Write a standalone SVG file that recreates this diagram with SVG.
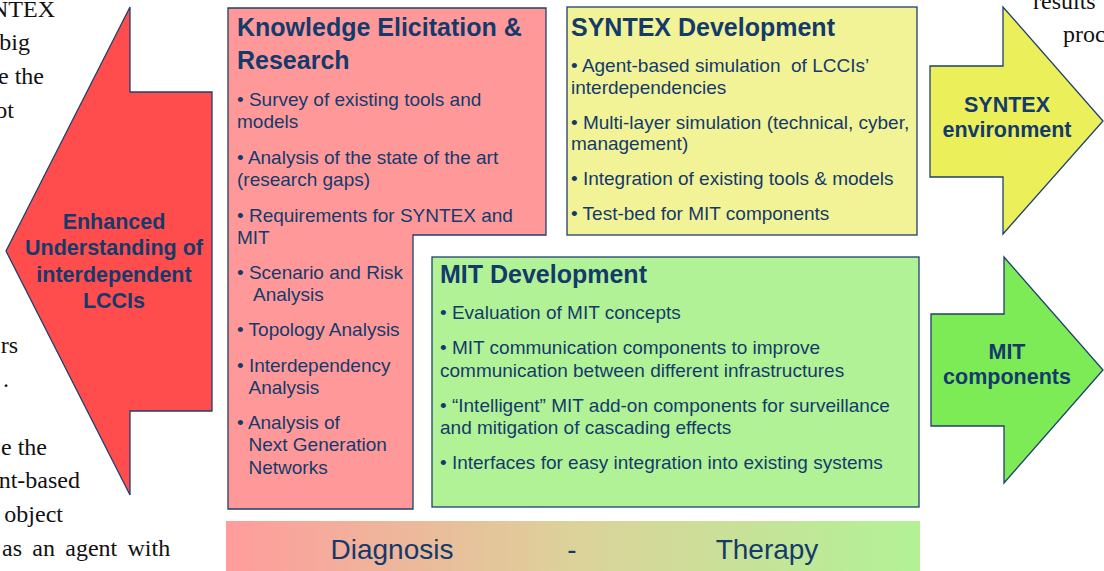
<svg xmlns="http://www.w3.org/2000/svg" width="1104" height="571" viewBox="0 0 1104 571">
<style>
.bg{font-family:"Liberation Serif","Times New Roman",serif;font-size:24px;fill:#111}
.t{font-family:"Liberation Sans",Arial,sans-serif;fill:#143A6B}
.title{font-size:25px;font-weight:bold}
.b{font-size:19px}
.arr{font-size:21.5px;font-weight:bold;text-anchor:middle}
.bar{font-size:28px;text-anchor:middle}
.box{stroke:#1F3F6E;stroke-width:1.3}
</style>
<defs>
<linearGradient id="dt" x1="0" y1="0" x2="1" y2="0">
<stop offset="0" stop-color="#FF9C9C"/>
<stop offset="0.5" stop-color="#DCD29A"/>
<stop offset="1" stop-color="#B2F296"/>
</linearGradient>
</defs>
<rect width="1104" height="571" fill="#fff"/>
<g id="background-text" class="bg">
<text x="55" y="17" text-anchor="end">NTEX</text>
<text x="30" y="50" text-anchor="end">big</text>
<text x="44" y="84" text-anchor="end">e the</text>
<text x="14" y="118" text-anchor="end">ot</text>
<text x="18" y="353" text-anchor="end">rs</text>
<text x="9" y="387" text-anchor="end">.</text>
<text x="47" y="455" text-anchor="end">e the</text>
<text x="80" y="488" text-anchor="end">nt-based</text>
<text x="63" y="522" text-anchor="end">object</text>
<text x="2" y="556" word-spacing="4.3">as an agent with</text>
<text x="1033" y="9">results</text>
<text x="1063" y="42">proc</text>
</g>
<g id="understanding-arrow">
<polygon class="box" fill="#FF4D4D" points="6,251 130,7 130,92 212,92 212,411 130,411 130,495"/>
<text class="t arr" x="114" y="229">Enhanced</text>
<text class="t arr" x="114" y="255">Understanding of</text>
<text class="t arr" x="114" y="281.5">interdependent</text>
<text class="t arr" x="114" y="308">LCCIs</text>
</g>
<g id="knowledge-box">
<path class="box" fill="#FF9999" d="M228,8 H546 V235 H413 V509 H228 Z"/>
<text class="t title" x="237" y="36">Knowledge Elicitation &amp;</text>
<text class="t title" x="237" y="69">Research</text>
<g class="t b">
<text x="237" y="106">• Survey of existing tools and</text>
<text x="237" y="128">models</text>
<text x="237" y="164">• Analysis of the state of the art</text>
<text x="237" y="185.5">(research gaps)</text>
<text x="237" y="221.5">• Requirements for SYNTEX and</text>
<text x="237" y="243.5">MIT</text>
<text x="237" y="279">• Scenario and Risk</text>
<text x="253" y="300.5">Analysis</text>
<text x="237" y="336">• Topology Analysis</text>
<text x="237" y="372">• Interdependency</text>
<text x="248.5" y="393.5">Analysis</text>
<text x="237" y="428.5">• Analysis of</text>
<text x="248.5" y="451">Next Generation</text>
<text x="248.5" y="473.5">Networks</text>
</g>
</g>
<g id="syntex-box">
<rect class="box" fill="#F2F396" x="567" y="7" width="350" height="228"/>
<text class="t title" x="571" y="36">SYNTEX Development</text>
<g class="t b">
<text x="571" y="72" xml:space="preserve">• Agent-based simulation  of LCCIs’</text>
<text x="571" y="93.5">interdependencies</text>
<text x="571" y="128.5">• Multi-layer simulation (technical, cyber,</text>
<text x="571" y="150">management)</text>
<text x="571" y="185">• Integration of existing tools &amp; models</text>
<text x="571" y="220">• Test-bed for MIT components</text>
</g>
</g>
<g id="mit-box">
<rect class="box" fill="#B2F296" x="432" y="257" width="487" height="250"/>
<text class="t title" x="440" y="283">MIT Development</text>
<g class="t b">
<text x="440" y="318.5">• Evaluation of MIT concepts</text>
<text x="440" y="354">• MIT communication components to improve</text>
<text x="440" y="376.5">communication between different infrastructures</text>
<text x="440" y="411.5">• “Intelligent” MIT add-on components for surveillance</text>
<text x="440" y="433.5">and mitigation of cascading effects</text>
<text x="440" y="469">• Interfaces for easy integration into existing systems</text>
</g>
</g>
<g id="syntex-arrow">
<polygon class="box" fill="#EBEF5A" points="930,66 1003,66 1003,7 1103,121 1003,234 1003,177 930,177"/>
<text class="t arr" x="1007" y="112">SYNTEX</text>
<text class="t arr" x="1007" y="137">environment</text>
</g>
<g id="mit-arrow">
<polygon class="box" fill="#7DEB55" points="931,314 1004,314 1004,257 1103,370 1004,483 1004,426 931,426"/>
<text class="t arr" x="1007" y="359">MIT</text>
<text class="t arr" x="1007" y="384">components</text>
</g>
<g id="diagnosis-therapy-bar">
<rect x="226" y="521" width="694" height="50" fill="url(#dt)"/>
<text class="t bar" x="392" y="559">Diagnosis</text>
<text class="t bar" x="572" y="559">-</text>
<text class="t bar" x="767" y="559">Therapy</text>
</g>
</svg>
